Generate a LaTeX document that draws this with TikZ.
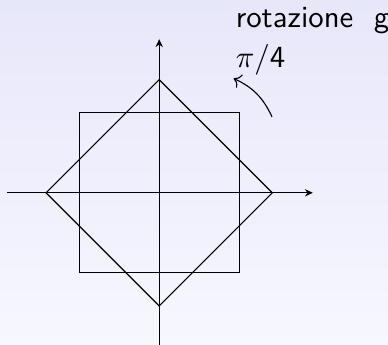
\documentclass[tikz,border=0pt]{standalone}
\usepackage{tikz}
\usetikzlibrary{arrows.meta, positioning}

\begin{document}
\begin{tikzpicture}[every node/.style={inner sep=0pt, font=\sffamily\fontsize{10.95}{13.6}\selectfont}]
\shade[top color={rgb,255:red,231;green,231;blue,250}, bottom color={rgb,255:red,247;green,247;blue,255}] (-1.99,-1.89) rectangle (2.86,2.41);
\useasboundingbox (-1.99,-1.89) rectangle (2.86,2.41);
\coordinate (xmin) at (-1.9,0);
\coordinate (xmax) at (1.92,0);
\coordinate (ymin) at (0,-1.92);
\coordinate (ymax) at (0,1.92);
\draw[-{Stealth[length=2.8pt, width=2.6pt]}] (xmin) -- (xmax);
\draw[-{Stealth[length=2.8pt, width=2.6pt]}] (ymin) -- (ymax);
\draw (-1,-1) rectangle (1,1);
\draw (-1.414,0) -- (0,1.414) -- (1.414,0) -- (0,-1.414) -- cycle;
\node[anchor=base west] (rotlabel) at (0.95,2.06) {rotazione\ \ g};
\node[anchor=base west] (anglelabel) at (0.95,1.56) {$\pi\mathsf{/4}$};
\coordinate (arcstart) at (1.41,0.95);
\coordinate (arcend) at (0.93,1.43);
\draw[->] (arcstart) to[bend right=20] (arcend);
\end{tikzpicture}
\end{document}
